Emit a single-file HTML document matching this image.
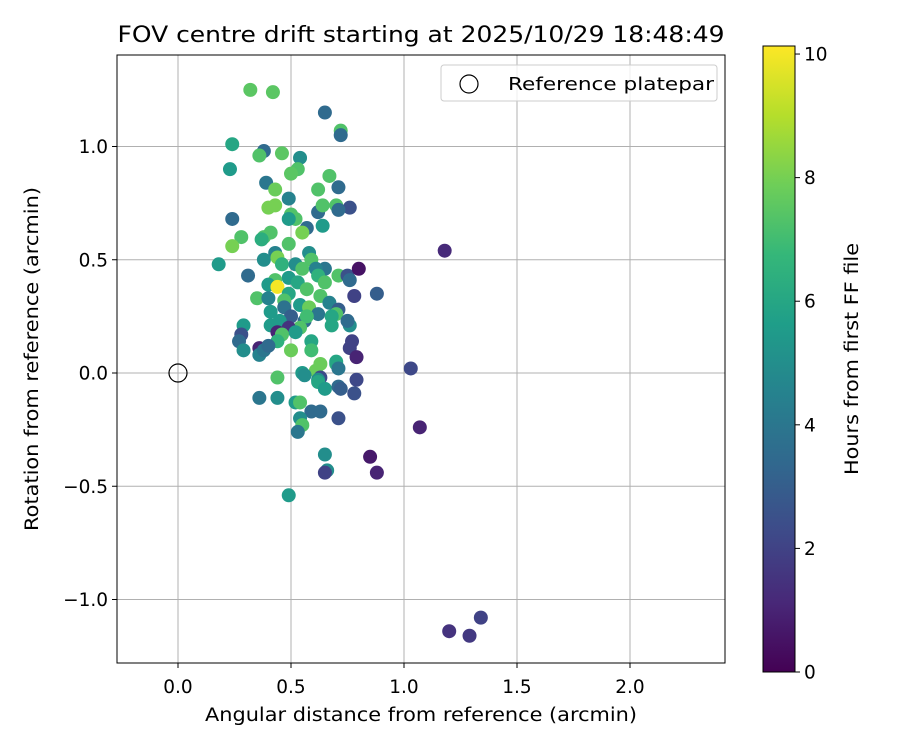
<!DOCTYPE html>
<html><head><meta charset="utf-8"><style>
body{margin:0;background:#fff;font-family:"Liberation Sans","DejaVu Sans",sans-serif}
text{font-family:"DejaVu Sans","Liberation Sans",sans-serif;fill:#000}
</style></head><body>
<svg id="chart" width="900" height="750" xmlns="http://www.w3.org/2000/svg">
<defs><linearGradient id="vir" x1="0" y1="1" x2="0" y2="0">
<stop offset="0" stop-color="#440154"/><stop offset="0.111" stop-color="#482878"/><stop offset="0.222" stop-color="#3e4a89"/><stop offset="0.333" stop-color="#31688e"/><stop offset="0.444" stop-color="#26828e"/><stop offset="0.556" stop-color="#1f9e89"/><stop offset="0.667" stop-color="#35b779"/><stop offset="0.778" stop-color="#6ece58"/><stop offset="0.889" stop-color="#b5de2b"/><stop offset="1" stop-color="#fde725"/></linearGradient></defs>
<g id="grid"></g>
<g id="pts"></g>
<rect x="117" y="55" width="608" height="608" fill="none" stroke="#000" stroke-width="1"/>
<g id="axes"></g>
<text x="421" y="42" text-anchor="middle" font-size="22.5" textLength="607" lengthAdjust="spacingAndGlyphs">FOV centre drift starting at 2025/10/29 18:48:49</text>
<text x="421" y="721" text-anchor="middle" font-size="18.5" textLength="432" lengthAdjust="spacingAndGlyphs">Angular distance from reference (arcmin)</text>
<text transform="translate(38,359) rotate(-90)" text-anchor="middle" font-size="18.5" textLength="344" lengthAdjust="spacingAndGlyphs">Rotation from reference (arcmin)</text>
<g>
<rect x="441" y="65" width="276" height="36" rx="3" fill="#fff" fill-opacity="0.8" stroke="#ccc"/>
<circle cx="469" cy="84" r="9" fill="none" stroke="#000" stroke-width="1.2"/>
<text x="508" y="90" font-size="18" textLength="206" lengthAdjust="spacingAndGlyphs">Reference platepar</text>
</g>
<g>
<rect x="763" y="46" width="32" height="626" fill="url(#vir)" stroke="#000" stroke-width="1"/>
<g id="cbticks"></g>
<text transform="translate(858,359) rotate(-90)" text-anchor="middle" font-size="18.5" textLength="232" lengthAdjust="spacingAndGlyphs">Hours from first FF file</text>
</g>
</svg>
<script>
const xs=[.32,.42,.65,.72,.72,.24,.38,.46,.36,.54,.23,.53,.50,.67,.39,.43,.62,.71,.49,.43,.40,.62,.70,.64,.76,.71,.50,.52,.24,.49,.64,.57,.55,.41,.38,.28,.37,.49,1.18,.24,.43,.18,.38,.58,.59,.44,.46,.52,.55,.65,.61,.71,.75,.80,.76,.62,.65,.31,.49,.43,.40,.44,.53,.88,.57,.49,.35,.40,.47,.63,.78,.54,.58,.67,.47,.41,.71,.62,.50,.56,.57,.70,.68,.68,.76,.75,.41,.29,.45,.54,.49,.44,.52,.28,.46,.44,.36,.27,.59,.77,.76,.59,.50,.29,.36,.38,.40,.79,.70,.70,.63,.71,.61,1.03,.55,.44,.63,.56,.62,.79,.62,.65,.71,.72,.78,.36,.44,.52,.54,.59,.63,.71,.54,.55,.53,1.07,.65,.85,.66,.65,.88,.49,1.20,1.29,1.34];
const ys=[1.25,1.24,1.15,1.07,1.05,1.01,.98,.97,.96,.95,.90,.90,.88,.87,.84,.81,.81,.82,.77,.74,.73,.71,.74,.74,.73,.72,.70,.68,.68,.68,.65,.64,.62,.62,.60,.60,.59,.57,.54,.56,.53,.48,.50,.53,.50,.51,.48,.48,.46,.46,.46,.43,.43,.46,.41,.43,.40,.43,.42,.41,.39,.38,.40,.35,.37,.35,.33,.33,.32,.34,.34,.30,.29,.31,.29,.27,.28,.26,.25,.23,.25,.26,.25,.21,.21,.23,.21,.21,.23,.20,.20,.18,.18,.17,.17,.14,.11,.14,.14,.14,.11,.10,.10,.10,.08,.10,.12,.07,.04,.05,.04,.02,.01,.02,0,-.02,-.02,-.01,-.03,-.03,-.04,-.07,-.06,-.07,-.09,-.11,-.11,-.13,-.13,-.17,-.17,-.20,-.20,-.23,-.26,-.24,-.36,-.37,-.43,-.44,-.44,-.54,-1.14,-1.16,-1.08];
const hours=[7.5,7.5,3.5,7.3,3.5,6,3.5,7.5,7.3,5,5.5,7.3,7.5,7.3,4,7.8,7.3,3.5,4.5,8,8,3.5,7.3,7.3,2.5,3.5,7.3,7.3,3.5,5.5,5.5,3.5,8,7.3,7.3,7.3,6.3,7.3,1.2,8,4.5,5.5,5,5,7.3,8,6.5,5,7.3,4,4.5,7.3,2.5,0.5,3.5,6.5,7.3,3.5,5.5,7.3,5.5,10,6,3,7.3,6,7.3,4.5,7.3,7.3,2,5.5,7.8,4.5,3.8,5.5,3,4,3,3.5,7,7.3,6,6,5,3.5,5.5,5.5,5.5,7.3,1.5,1,5.5,2.5,7.3,6.5,1,3.5,6,2,2,7,7.8,5,4.5,4,3.5,1,6.5,6,7.8,4,7.8,2.2,5.5,7.3,2.3,5,5,2.2,6,5.5,3.5,3,2.5,4,5,5.5,7.3,3.5,3.5,2.5,5,7.3,4,1,5,0.7,5,2,1,5.5,1.5,1.7,2];
const xTicks=[0,0.5,1,1.5,2], xTickLabels=["0.0","0.5","1.0","1.5","2.0"];
const yTicks=[-1,-0.5,0,0.5,1], yTickLabels=["\u22121.0","\u22120.5","0.0","0.5","1.0"];
const cTicks=[0,2,4,6,8,10];
const NS="http://www.w3.org/2000/svg";
const X=v=>178+v*226, Y=v=>373-v*226.5, C=v=>672-v*(626/10.13);
const vir=["#440154","#482878","#3e4a89","#31688e","#26828e","#1f9e89","#35b779","#6ece58","#b5de2b","#fde725"];
function hex(h){return [1,3,5].map(i=>parseInt(h.substr(i,2),16));}
function color(t){t=Math.max(0,Math.min(1,t))*9;const i=Math.min(8,Math.floor(t)),f=t-i;const a=hex(vir[i]),b=hex(vir[i+1]);return "rgb("+a.map((v,k)=>Math.round(v+(b[k]-v)*f)).join(",")+")";}
function mk(tag,attrs,parent,txt){const e=document.createElementNS(NS,tag);for(const k in attrs)e.setAttribute(k,attrs[k]);if(txt!==undefined)e.textContent=txt;parent.appendChild(e);return e;}
const grid=document.getElementById('grid'),axes=document.getElementById('axes'),pts=document.getElementById('pts'),cb=document.getElementById('cbticks');
xTicks.forEach((v,i)=>{
 const g=mk('line',{x1:X(v),x2:X(v),y1:55,y2:663,stroke:'#b0b0b0','stroke-width':1},grid);
 
 
 mk('line',{x1:X(v),x2:X(v),y1:663,y2:668,stroke:'#000'},axes);
 const t=mk('text',{x:X(v),y:693,'text-anchor':'middle','font-size':18.5},axes,xTickLabels[i]);
 
 
});
yTicks.forEach((v,i)=>{
 const g=mk('line',{x1:117,x2:725,y1:Y(v),y2:Y(v),stroke:'#b0b0b0','stroke-width':1},grid);
 
 
 mk('line',{x1:112,x2:117,y1:Y(v),y2:Y(v),stroke:'#000'},axes);
 const t=mk('text',{x:108,y:Y(v)+6.5,'text-anchor':'end','font-size':18.5},axes,yTickLabels[i]);
 
 
});
mk('circle',{cx:X(0),cy:Y(0),r:9,fill:'none',stroke:'#000','stroke-width':1.2},pts);
xs.forEach((v,i)=>{
 const c=mk('circle',{cx:X(v),cy:Y(ys[i]),r:7,fill:color(hours[i]/10.13)},pts);
 
 
});
cTicks.forEach(v=>{
 mk('line',{x1:795,x2:800,y1:C(v),y2:C(v),stroke:'#000'},cb);
 const t=mk('text',{x:804,y:C(v)+6.5,'font-size':18.5},cb,String(v));
 
 
});
</script>
</body></html>
